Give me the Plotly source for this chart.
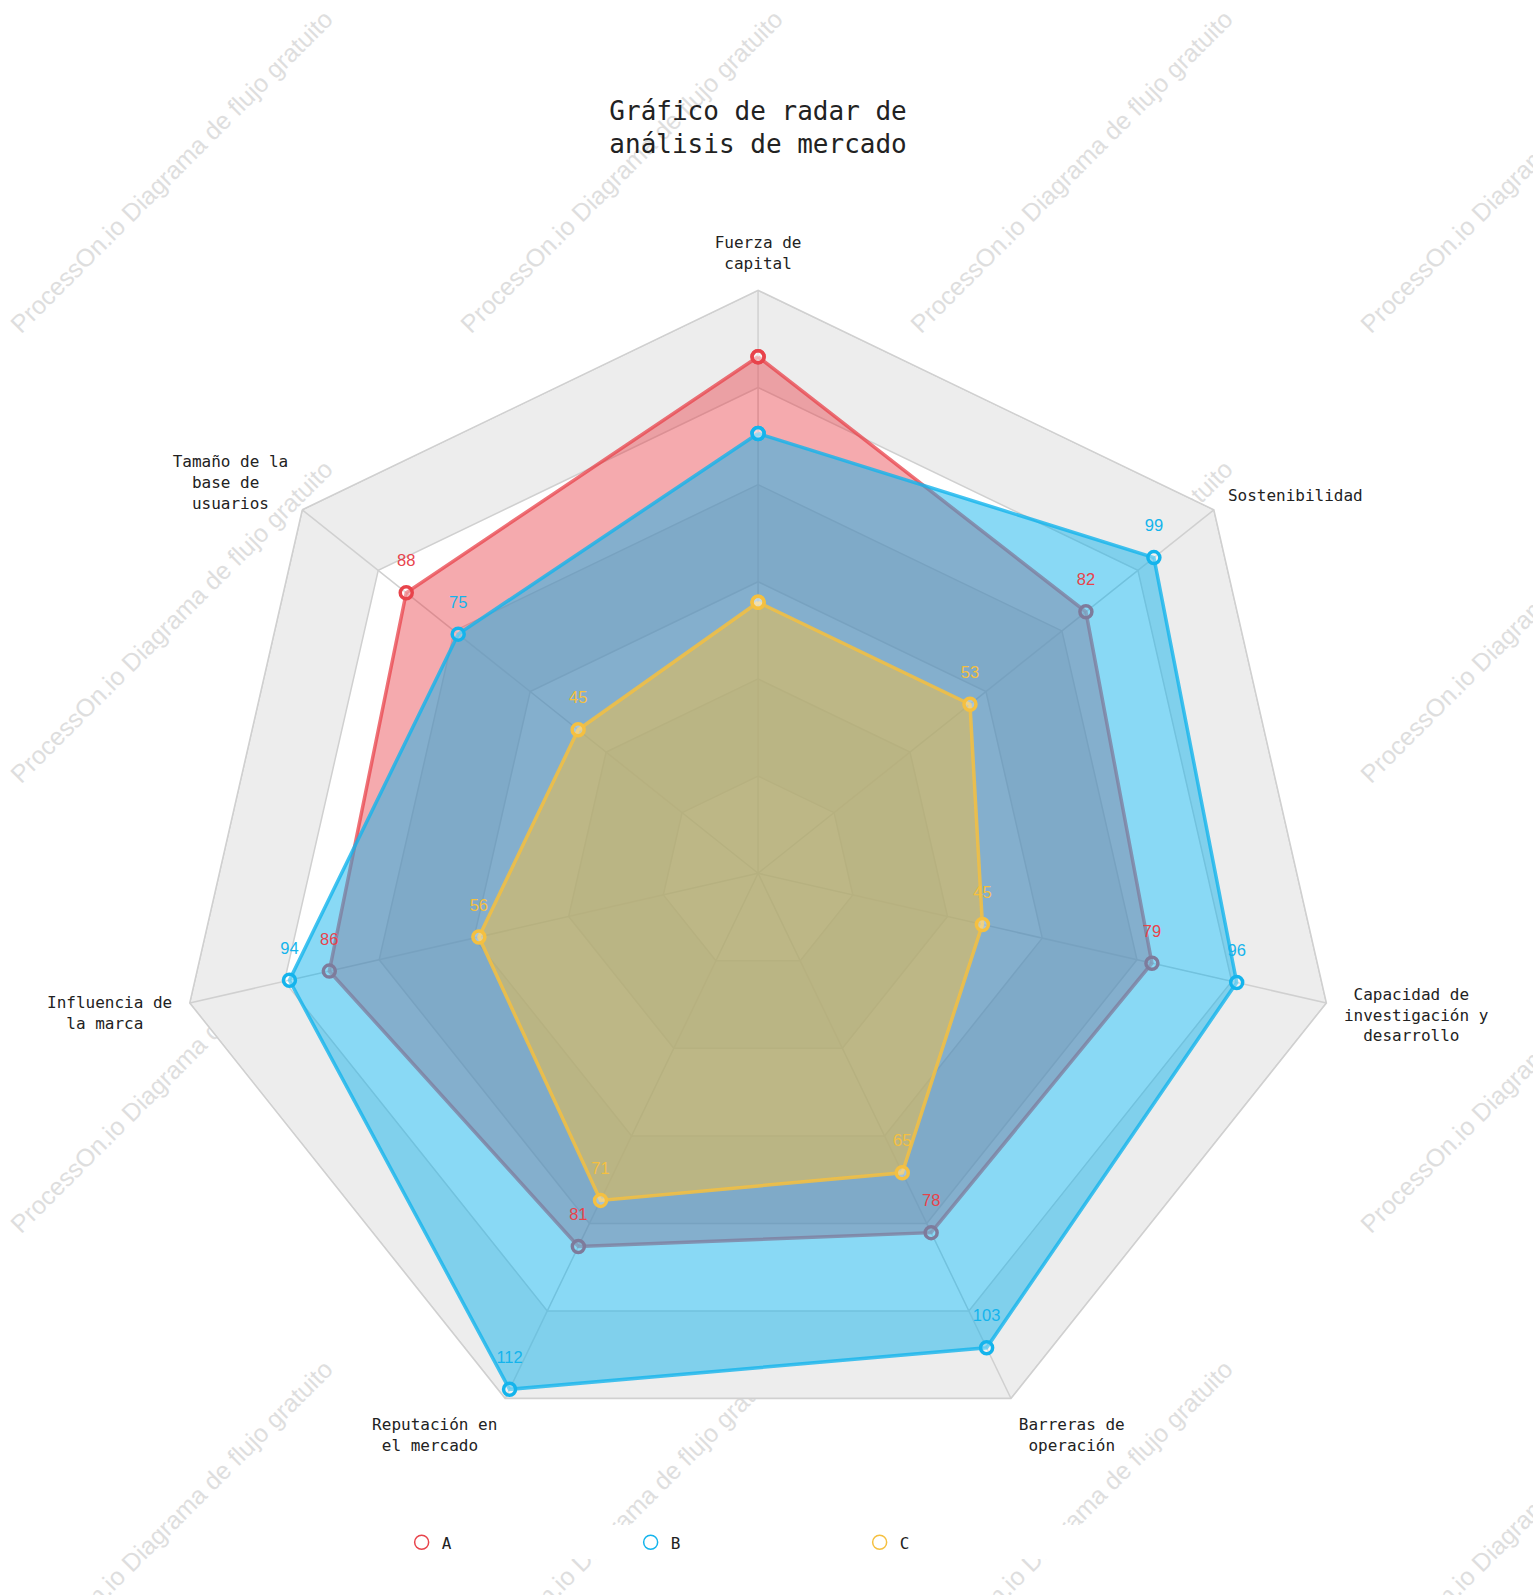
import base64
import plotly.graph_objects as go

categories = [
    "Fuerza de<br>capital",
    "Sostenibilidad",
    "Capacidad de<br>investigación y<br>desarrollo",
    "Barreras de<br>operación",
    "Reputación en<br>el mercado",
    "Influencia de<br>la marca",
    "Tamaño de la<br>base de<br>usuarios",
]
series_names = ["A", "B", "C"]
values_a = [101, 82, 79, 78, 81, 86, 88]
values_b = [86, 99, 96, 103, 112, 94, 75]
values_c = [53, 53, 45, 65, 71, 56, 45]
ring_levels = [19, 38, 57, 76, 95, 114]

colors = ["#e8434b", "#14b4ec", "#f5c040"]
line_colors = ["rgba(232,67,75,0.75)", "rgba(20,180,236,0.8)", "rgba(245,192,64,0.85)"]
fills = ["rgba(232,67,75,0.45)", "rgba(20,180,236,0.5)", "rgba(245,192,64,0.5)"]
all_values = [values_a, values_b, values_c]

MONO = "DejaVu Sans Mono"
SANS = "Liberation Sans"
W, H = 1533, 1595
GRID = "#d0d0d0"


def centre_lines(label):
    lines = label.split("<br>")
    n = max(len(s) for s in lines)
    out = []
    for s in lines:
        d = n - len(s)
        left = d // 2
        out.append("\u00a0" * left + s + "\u00a0" * (d - left))
    return "<br>".join(out)


tick_text = [centre_lines(c) for c in categories]

fig = go.Figure()

# split areas: opaque base + grey bands
closed = categories + [categories[0]]
fig.add_trace(go.Scatterpolar(
    r=[ring_levels[-1]] * len(closed), theta=closed, mode="lines", fill="toself",
    fillcolor="white", line=dict(width=0), hoverinfo="skip", showlegend=False))
for i in range(len(ring_levels)):
    if i % 2 == 1:
        outer = ring_levels[i]
        inner = ring_levels[i - 1]
        r = [outer] * len(closed) + [inner] * len(closed)
        th = closed + closed[::-1]
        fig.add_trace(go.Scatterpolar(
            r=r, theta=th, mode="lines", fill="toself",
            fillcolor="#ededed", line=dict(width=0),
            hoverinfo="skip", showlegend=False))

# grid: rings and spokes
ring_r, ring_t = [], []
for lv in ring_levels:
    ring_r += [lv] * len(closed) + [None]
    ring_t += closed + [categories[0]]
fig.add_trace(go.Scatterpolar(
    r=ring_r, theta=ring_t, mode="lines", line=dict(color=GRID, width=1.5),
    connectgaps=False, hoverinfo="skip", showlegend=False))
sp_r, sp_t = [], []
for c in categories:
    sp_r += [0, ring_levels[-1], None]
    sp_t += [c, c, c]
fig.add_trace(go.Scatterpolar(
    r=sp_r, theta=sp_t, mode="lines", line=dict(color=GRID, width=1.5),
    connectgaps=False, hoverinfo="skip", showlegend=False))

# first-indicator labels that sit at the centre
for vals, col in zip(all_values, colors):
    fig.add_trace(go.Scatterpolar(
        r=[0], theta=[categories[0]], mode="text",
        text=[str(vals[0])], textposition="middle right",
        textfont=dict(family=SANS, size=16, color=col),
        hoverinfo="skip", showlegend=False))

for name, vals, col, lc, fc in zip(series_names, all_values, colors, line_colors, fills):
    fig.add_trace(go.Scatterpolar(
        r=vals + [vals[0]], theta=closed,
        mode="lines+markers", fill="toself", fillcolor=fc,
        line=dict(color=lc, width=3.5),
        marker=dict(symbol="circle", size=12, color="rgba(255,255,255,0.3)",
                    line=dict(color=col, width=3.5)),
        name=name, showlegend=False))

# value labels on top
for vals, col in zip(all_values, colors):
    fig.add_trace(go.Scatterpolar(
        r=vals[1:], theta=categories[1:], mode="markers+text",
        marker=dict(size=34, opacity=0),
        text=[str(v) for v in vals[1:]], textposition="top center",
        textfont=dict(family=SANS, size=16.5, color=col),
        hoverinfo="skip", showlegend=False))

for name, col in zip(series_names, colors):
    fig.add_trace(go.Scatterpolar(
        r=[None], theta=[categories[0]], mode="markers", name=name,
        marker=dict(symbol="circle-open", size=14, color=col, line=dict(width=1.5)),
        showlegend=True))

# watermark as a background svg image
wm = []
centers = [173, 623, 1073, 1523]
for cx in centers:
    for cy in centers:
        wm.append(
            f'<text x="{cx}" y="{cy}" transform="rotate(-45 {cx} {cy})" '
            f'text-anchor="middle" dominant-baseline="middle" '
            f'font-family="Liberation Sans, Arial, sans-serif" font-size="25" '
            f'fill="#dedede">ProcessOn.io Diagrama de flujo gratuito</text>')
svg = (f'<svg xmlns="http://www.w3.org/2000/svg" width="{W}" height="{H}" '
       f'viewBox="0 0 {W} {H}">' + "".join(wm) + "</svg>")
uri = "data:image/svg+xml;base64," + base64.b64encode(svg.encode("utf-8")).decode()

fig.update_layout(
    width=W, height=H,
    margin=dict(l=0, r=0, t=0, b=0),
    paper_bgcolor="white",
    images=[dict(source=uri, xref="paper", yref="paper", x=0, y=1, sizex=1, sizey=1,
                 xanchor="left", yanchor="top", sizing="stretch", layer="below")],
    title=dict(text="Gráfico de radar de<br>análisis de mercado",
               x=0.4945, xanchor="center", y=0.925, yanchor="middle",
               font=dict(family=MONO, size=26, color="#222")),
    polar=dict(
        domain=dict(x=[0.114, 0.875], y=[0.087, 0.818]),
        bgcolor="rgba(0,0,0,0)",
        gridshape="linear",
        radialaxis=dict(range=[0, 114], tickvals=ring_levels, showticklabels=False,
                        ticks="", showline=False, showgrid=False),
        angularaxis=dict(direction="clockwise", rotation=90, categoryarray=categories,
                         categoryorder="array", tickmode="array",
                         tickvals=categories, ticktext=tick_text,
                         tickfont=dict(family=MONO, size=16, color="#222"),
                         ticks="outside", ticklen=14, tickcolor="rgba(0,0,0,0)",
                         showline=True, linecolor=GRID, linewidth=1.5,
                         showgrid=False),
    ),
    legend=dict(orientation="h", x=0.262, xanchor="left", y=0.033, yanchor="middle",
                entrywidth=184, entrywidthmode="pixels",
                font=dict(family=MONO, size=16, color="#222")),
)

fig.write_html("out.html")
